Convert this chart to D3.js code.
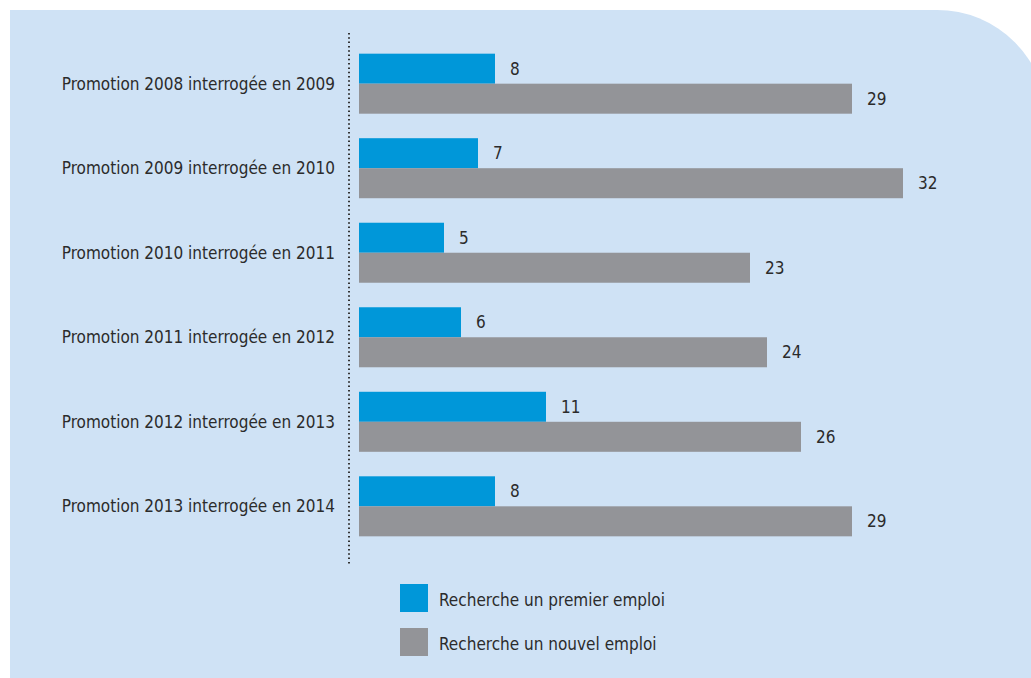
<!DOCTYPE html>
<html>
<head>
<meta charset="utf-8">
<script src="https://cdn.jsdelivr.net/npm/d3@7"></script>
<style>
  body { margin: 0; background: #fff; }
  text { font-family: "DejaVu Sans Condensed", "Noto Sans", sans-serif; fill: #2b2b2b; }
</style>
</head>
<body>
<svg id="chart"></svg>
<script>
// data
const categories = [
  "Promotion 2008 interrogée en 2009",
  "Promotion 2009 interrogée en 2010",
  "Promotion 2010 interrogée en 2011",
  "Promotion 2011 interrogée en 2012",
  "Promotion 2012 interrogée en 2013",
  "Promotion 2013 interrogée en 2014"
];
const premierEmploi = [8, 7, 5, 6, 11, 8];
const nouvelEmploi = [29, 32, 23, 24, 26, 29];
const seriesNames = ["Recherche un premier emploi", "Recherche un nouvel emploi"];

const W = 1031, H = 678;
const colors = ["#0097d9", "#939498"];

const svg = d3.select("#chart").attr("width", W).attr("height", H);

// background panel, rounded top-right corner
const r = 110;
svg.append("path")
  .attr("d", `M10,10 H${W + 16 - r} A${r},${r} 0 0 1 ${W + 16},${10 + r} V${H} H10 Z`)
  .attr("fill", "#cfe2f5");

// scales
const x = d3.scaleLinear().domain([0, 32]).range([359, 359 + 32 * 17]);
const y = d3.scaleBand().domain(categories).range([41, 549]).paddingInner(0.29).paddingOuter(0.15);

// dotted axis line
svg.append("line")
  .attr("x1", 349).attr("x2", 349)
  .attr("y1", 33).attr("y2", 565)
  .attr("stroke", "#333")
  .attr("stroke-width", 2)
  .attr("stroke-dasharray", "1.5,2.8");

const fs = "17px";

// category labels
svg.selectAll(".cat")
  .data(categories)
  .enter().append("text")
  .attr("class", "cat")
  .attr("x", 335)
  .attr("y", d => y(d) + y.bandwidth() / 2)
  .attr("dy", "0.35em")
  .attr("text-anchor", "end")
  .style("font-size", fs)
  .text(d => d);

const series = [premierEmploi, nouvelEmploi];
const barH = y.bandwidth() / 2;

series.forEach((vals, s) => {
  svg.selectAll(".bar" + s)
    .data(vals)
    .enter().append("rect")
    .attr("class", "bar" + s)
    .attr("x", x(0))
    .attr("y", (d, i) => y(categories[i]) + s * barH)
    .attr("width", d => x(d) - x(0))
    .attr("height", barH)
    .attr("fill", colors[s]);

  svg.selectAll(".val" + s)
    .data(vals)
    .enter().append("text")
    .attr("class", "val" + s)
    .attr("x", d => x(d) + 15)
    .attr("y", (d, i) => y(categories[i]) + s * barH + barH / 2)
    .attr("dy", "0.35em")
    .style("font-size", fs)
    .text(d => d);
});

// legend
const legend = svg.append("g");
seriesNames.forEach((name, i) => {
  legend.append("rect")
    .attr("x", 400).attr("y", 584 + i * 44)
    .attr("width", 28).attr("height", 28)
    .attr("fill", colors[i]);
  legend.append("text")
    .attr("x", 439).attr("y", 600 + i * 44)
    .attr("dy", "0.35em")
    .style("font-size", fs)
    .text(name);
});
</script>
</body>
</html>
